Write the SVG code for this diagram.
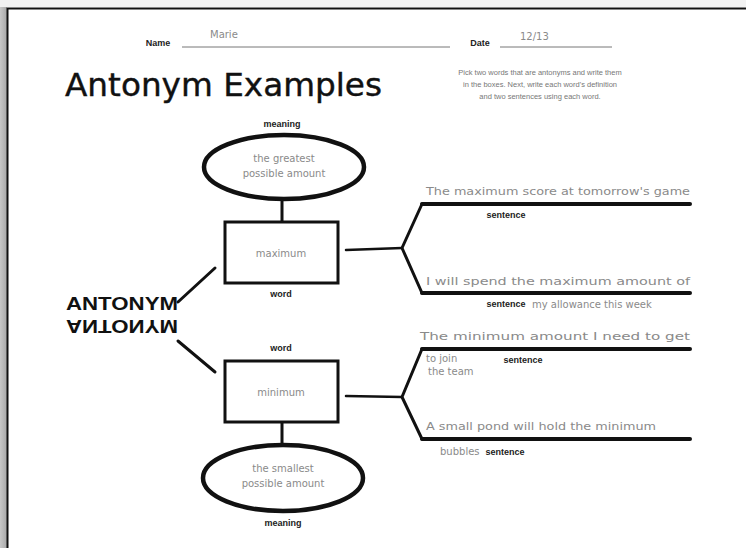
<svg xmlns="http://www.w3.org/2000/svg" width="746" height="548" viewBox="0 0 746 548">
<defs>
<linearGradient id="sh" x1="0" y1="0" x2="1" y2="0"><stop offset="0" stop-color="#c8c8c8"/><stop offset="1" stop-color="#a8a8a8"/></linearGradient>
</defs>
<style>
.lbl{font-family:"Liberation Sans",Arial,sans-serif;font-weight:bold;font-size:9px;fill:#222;text-anchor:middle}
.hw{font-family:"DejaVu Sans",sans-serif;font-size:10px;fill:#8a8a8a}
.ln{stroke:#111;fill:none;stroke-linecap:round;stroke-linejoin:round}
.ell{stroke:#111;stroke-width:4.5;fill:#fff}
.box{stroke:#111;stroke-width:3;fill:#fff}
.thin{stroke:#777;stroke-width:1;fill:none}
</style>
<rect x="0" y="0" width="746" height="548" fill="#fff"/>
<rect x="0" y="0" width="7" height="548" fill="url(#sh)"/>
<rect x="0" y="0" width="746" height="7" fill="#f2f2f2"/>
<path d="M7.5 548 V8.5 H746" stroke="#111" stroke-width="2" fill="none"/>

<g id="header">
<text class="lbl" x="158" y="46">Name</text>
<line class="thin" x1="182" y1="47" x2="450" y2="47"/>
<text class="hw" x="210" y="38" font-size="11">Marie</text>
<text class="lbl" x="480" y="46">Date</text>
<line class="thin" x1="500" y1="47" x2="612" y2="47"/>
<text class="hw" x="520" y="40" font-size="10">12/13</text>
<text x="65" y="96" font-family="'DejaVu Sans',sans-serif" font-size="32" fill="#111" stroke="#111" stroke-width="0.4" textLength="317" lengthAdjust="spacingAndGlyphs">Antonym Examples</text>
<g font-family="'Liberation Sans',Arial,sans-serif" font-size="7.5" fill="#777" text-anchor="middle">
<text x="540" y="75">Pick two words that are antonyms and write them</text>
<text x="540" y="87">in the boxes. Next, write each word's definition</text>
<text x="540" y="99">and two sentences using each word.</text>
</g>
</g>

<g id="antonym-label" font-family="'Liberation Sans',Arial,sans-serif" font-weight="bold" font-size="18" fill="#111">
<text x="66" y="310" textLength="112" lengthAdjust="spacingAndGlyphs">ANTONYM</text>
<text x="66" y="-320" transform="scale(1,-1)" textLength="112" lengthAdjust="spacingAndGlyphs">ANTONYM</text>
</g>

<g id="connectors">
<line class="ln" stroke-width="3" x1="178" y1="302" x2="215" y2="268"/>
<line class="ln" stroke-width="3" x1="178" y1="341" x2="215" y2="372"/>
<line class="ln" stroke-width="3" x1="282" y1="200" x2="282" y2="222"/>
<line class="ln" stroke-width="3" x1="282" y1="422" x2="282" y2="444"/>
<line class="ln" stroke-width="2.5" x1="346" y1="250" x2="402" y2="248"/>
<path class="ln" stroke-width="3" d="M422 204 L402 248 L422 293"/>
<line class="ln" stroke-width="4" x1="422" y1="204" x2="690" y2="204"/>
<line class="ln" stroke-width="4" x1="422" y1="293" x2="690" y2="293"/>
<line class="ln" stroke-width="2.5" x1="346" y1="396" x2="402" y2="397"/>
<path class="ln" stroke-width="3" d="M422 349 L402 397 L422 439"/>
<line class="ln" stroke-width="4" x1="422" y1="349" x2="690" y2="349"/>
<line class="ln" stroke-width="4" x1="422" y1="439" x2="690" y2="439"/>
</g>

<g id="meaning-top">
<text class="lbl" x="282" y="127">meaning</text>
<ellipse class="ell" cx="284" cy="167" rx="80" ry="32"/>
<text class="hw" x="284" y="162" text-anchor="middle">the greatest</text>
<text class="hw" x="284" y="177" text-anchor="middle">possible amount</text>
</g>

<g id="word-top">
<rect class="box" x="225" y="222" width="113" height="61"/>
<text class="hw" x="281" y="257" text-anchor="middle">maximum</text>
<text class="lbl" x="281" y="297">word</text>
</g>

<g id="sentences-top">
<text class="hw" x="426" y="195" textLength="264" lengthAdjust="spacingAndGlyphs">The maximum score at tomorrow's game</text>
<text class="lbl" x="506" y="218">sentence</text>
<text class="hw" x="426" y="285" textLength="264" lengthAdjust="spacingAndGlyphs">I will spend the maximum amount of</text>
<text class="lbl" x="506" y="307">sentence</text>
<text class="hw" x="532" y="308" font-size="9">my allowance this week</text>
</g>

<g id="word-bottom">
<text class="lbl" x="281" y="351">word</text>
<rect class="box" x="225" y="361" width="113" height="61"/>
<text class="hw" x="281" y="396" text-anchor="middle">minimum</text>
</g>

<g id="meaning-bottom">
<ellipse class="ell" cx="283" cy="478" rx="80" ry="33"/>
<text class="hw" x="283" y="472" text-anchor="middle">the smallest</text>
<text class="hw" x="283" y="487" text-anchor="middle">possible amount</text>
<text class="lbl" x="283" y="526">meaning</text>
</g>

<g id="sentences-bottom">
<text class="hw" x="420" y="340" textLength="270" lengthAdjust="spacingAndGlyphs">The minimum amount I need to get</text>
<text class="hw" x="426" y="362" font-size="9">to join</text>
<text class="lbl" x="523" y="363">sentence</text>
<text class="hw" x="428" y="375" font-size="9">the team</text>
<text class="hw" x="426" y="430" textLength="230" lengthAdjust="spacingAndGlyphs">A small pond will hold the minimum</text>
<text class="hw" x="440" y="455" font-size="9">bubbles</text>
<text class="lbl" x="505" y="455">sentence</text>
</g>
</svg>
